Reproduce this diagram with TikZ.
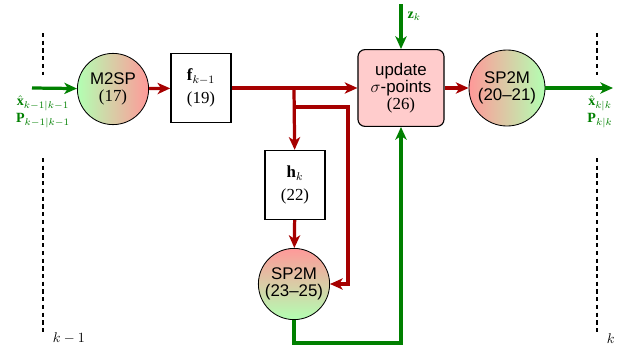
\documentclass[tikz,border=0pt]{standalone}
\usepackage{fontspec}
\setmainfont{Liberation Serif}
\setsansfont{Liberation Sans}
\usetikzlibrary{arrows.meta}

\begin{document}
\begin{tikzpicture}[x=0.025cm,y=-0.025cm]

	\tikzstyle{myred}=[red!65!black,line width=2.3pt]
	\tikzstyle{mygreen}=[green!50!black,line width=2.3pt]
	\tikzstyle{myarrow}=[-{Stealth[length=9pt,width=8pt,inset=2.5pt]}]
	\tikzstyle{mybox}=[draw,line width=1.1pt,fill=white,minimum width=1.5cm,minimum height=1.72cm,align=center,inner sep=1pt,font=\large]
	\tikzstyle{mycirc}=[circle,draw,semithick,minimum size=1.78cm,inner sep=0pt,align=center,font=\large\sffamily]
	\tikzstyle{mysep}=[thick,dash pattern=on 3pt off 2.5pt]
	\tikzstyle{mylabel}=[green!50!black,align=center,inner sep=1pt]

	\useasboundingbox (0,0) rectangle (619,349);

	% time step boundaries
	\foreach \x in {43,597} {
		\draw[mysep] (\x,33) -- (\x,75);
		\draw[mysep] (\x,158) -- (\x,333);
	}
	\node[anchor=west] at (48,338) {$k-1$};
	\node[anchor=west] at (602,339) {$k$};

	% blocks
	\node[mycirc,left color=green!30,right color=red!40] (m2sp) at (113,89) {M2SP\\[-2pt]{\rmfamily(17)}};
	\node[mybox] (f) at (201,88) {$\mathbf{f}_{k-1}$\\[2pt](19)};
	\node[mybox] (h) at (295,185) {$\mathbf{h}_{k}$\\[2pt](22)};
	\node[mycirc,top color=red!40,bottom color=green!30] (sp2mb) at (294,284) {SP2M\\[-2pt](23--25)};
	\node[draw,thick,rounded corners=5pt,fill=red!20,minimum width=2.15cm,minimum height=1.92cm,align=center,font=\large\sffamily] (upd) at (401,88) {update\\[-2pt]$\sigma$-points\\[-2pt]{\rmfamily(26)}};
	\node[mycirc,minimum size=1.9cm,left color=red!40,right color=green!30] (sp2m) at (507,88) {SP2M\\[-2pt](20--21)};

	% inputs and outputs
	\coordinate (in) at (32,88);
	\coordinate (out) at (613,88);
	\coordinate (z) at (401,4);
	\node[mylabel,anchor=north] at (43,94) {$\hat{\mathbf{x}}_{k-1|k-1}$\\$\mathbf{P}_{k-1|k-1}$};
	\node[mylabel,anchor=north] at (600,94) {$\hat{\mathbf{x}}_{k|k}$\\$\mathbf{P}_{k|k}$};
	\node[mylabel,anchor=west] at (406,16) {$\mathbf{z}_k$};

	% branch points
	\coordinate (j1) at (294,88);
	\coordinate (j2) at (294,107);
	\coordinate (j3) at (348,107);
	\coordinate (j4) at (348,284);

	\draw[mygreen,myarrow] (in) -- (m2sp);
	\draw[myred,myarrow] (m2sp) -- (f);
	\draw[myred,myarrow] (f) -- (upd);
	\draw[myred,myarrow] (j1) -- (h);
	\draw[myred,myarrow] (j2) -- (j3) -- (j4) -- (sp2mb);
	\draw[myred,myarrow] (h) -- (sp2mb);
	\draw[mygreen,myarrow] (sp2mb.south) -- ++(0,23) -| (upd.south);
	\draw[mygreen,myarrow] (z) -- (upd);
	\draw[myred,myarrow] (upd) -- (sp2m);
	\draw[mygreen,myarrow] (sp2m) -- (out);
\end{tikzpicture}
\end{document}
